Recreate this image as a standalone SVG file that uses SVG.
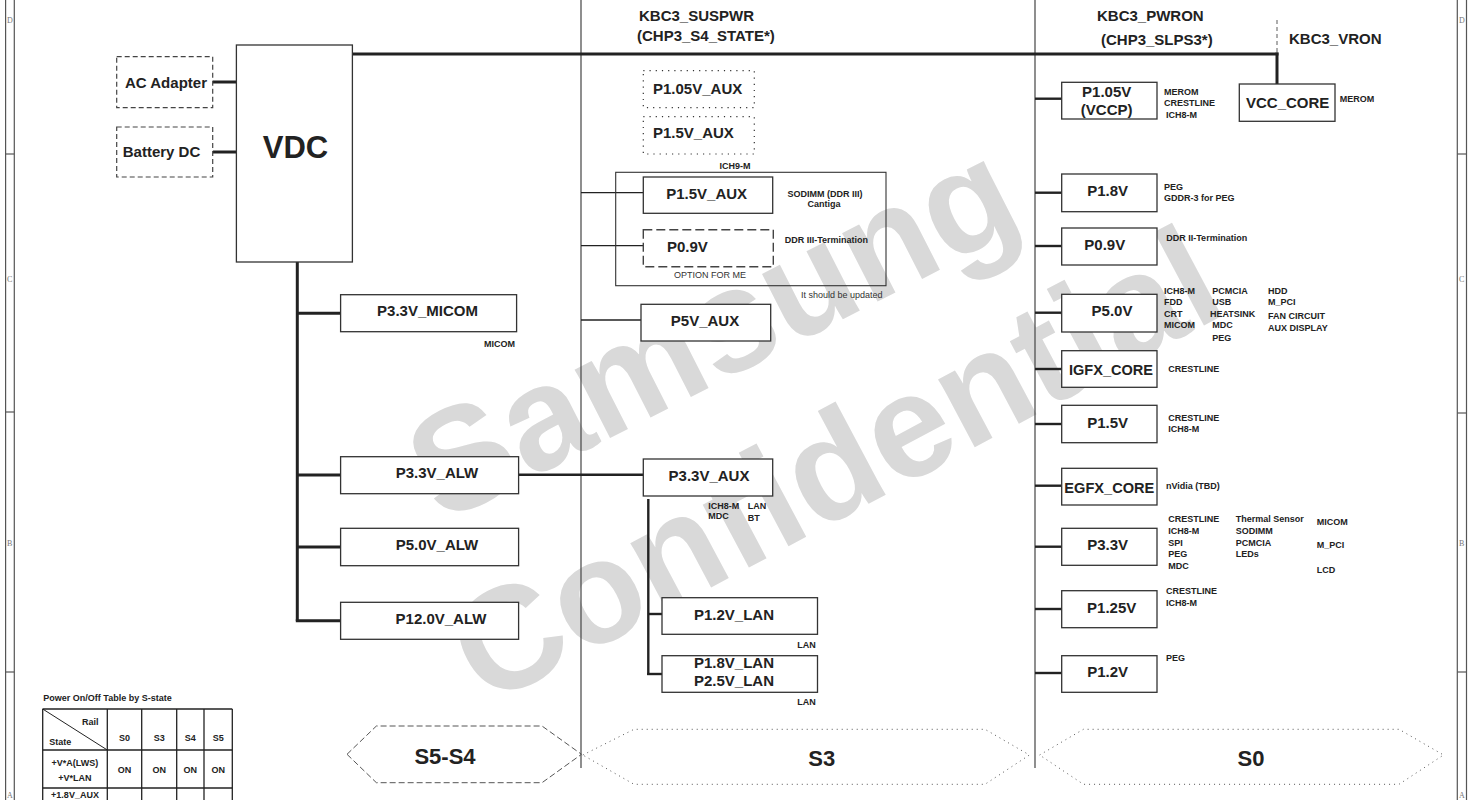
<svg xmlns="http://www.w3.org/2000/svg" width="1470" height="800" viewBox="0 0 1470 800">
<defs>
<style>
.bg{fill:#ffffff}
.wm{font-family:"Liberation Sans",Arial,sans-serif;font-weight:bold;font-size:146px;fill:#d9d9d9}
.frame{stroke:#555;stroke-width:1.2;fill:none}
.zl{font-family:"Liberation Serif",serif;font-size:8px;fill:#777}
.box{fill:#fff;stroke:#333;stroke-width:1.3}
.boxn{fill:none;stroke:#333;stroke-width:1.1}
.dash{fill:#fff;stroke:#444;stroke-width:1.2;stroke-dasharray:5 3}
.dash2{fill:#fff;stroke:#444;stroke-width:1.4;stroke-dasharray:9 4}
.dot{fill:#fff;stroke:#333;stroke-width:1.2;stroke-dasharray:1.2 5}
.hexdash{fill:none;stroke:#555;stroke-width:1;stroke-dasharray:6 3}
.hexdot{fill:none;stroke:#555;stroke-width:1;stroke-dasharray:1 4}
.thick{stroke:#222;stroke-width:3;fill:none}
.med{stroke:#222;stroke-width:2.4;fill:none}
.thin{stroke:#222;stroke-width:1.3;fill:none}
.sep{stroke:#444;stroke-width:1.2;fill:none}
.vdash{stroke:#777;stroke-width:1.2;stroke-dasharray:4 3;fill:none}
.t{font-family:"Liberation Sans",Arial,sans-serif;font-weight:bold;font-size:15px;fill:#222}
.tm{text-anchor:middle}
.big{font-family:"Liberation Sans",Arial,sans-serif;font-weight:bold;font-size:31px;fill:#222;text-anchor:middle}
.st{font-family:"Liberation Sans",Arial,sans-serif;font-weight:bold;font-size:22px;fill:#222;text-anchor:middle}
.s{font-family:"Liberation Sans",Arial,sans-serif;font-weight:bold;font-size:9px;fill:#222}
.n{font-family:"Liberation Sans",Arial,sans-serif;font-size:9px;fill:#333}
.tb{font-family:"Liberation Sans",Arial,sans-serif;font-weight:bold;font-size:9px;fill:#222;text-anchor:middle}
</style>
</defs>
<rect class="bg" x="0" y="0" width="1470" height="800"/>

<g id="watermark">
<text class="wm" text-anchor="middle" transform="translate(712,330) rotate(-27)" y="50">Samsung</text>
<text class="wm" text-anchor="middle" transform="translate(835,465) rotate(-28)" y="50">Confidential</text>
</g>

<g id="frame">
<line class="frame" x1="5.6" y1="0" x2="5.6" y2="800"/>
<line class="frame" x1="14.3" y1="0" x2="14.3" y2="800"/>
<line class="frame" x1="5.6" y1="154" x2="14.3" y2="154"/>
<line class="frame" x1="5.6" y1="412" x2="14.3" y2="412"/>
<line class="frame" x1="5.6" y1="672" x2="14.3" y2="672"/>
<line class="frame" x1="1457.3" y1="0" x2="1457.3" y2="800"/>
<line class="frame" x1="1466.5" y1="0" x2="1466.5" y2="800"/>
<line class="frame" x1="1457.3" y1="154" x2="1466.5" y2="154"/>
<line class="frame" x1="1457.3" y1="413" x2="1466.5" y2="413"/>
<line class="frame" x1="1457.3" y1="672" x2="1466.5" y2="672"/>
<text class="zl" x="7" y="23">D</text>
<text class="zl" x="7" y="282">C</text>
<text class="zl" x="7" y="546">B</text>
<text class="zl" x="7" y="798">A</text>
<text class="zl" x="1459" y="23">D</text>
<text class="zl" x="1459" y="282">C</text>
<text class="zl" x="1459" y="546">B</text>
<text class="zl" x="1459" y="798">A</text>
</g>

<g id="state-columns">
<line class="sep" x1="581" y1="0" x2="581" y2="768"/>
<line class="sep" x1="1035" y1="0" x2="1035" y2="768"/>
<text class="t" x="639" y="21">KBC3_SUSPWR</text>
<text class="t" x="637" y="41" font-size="14.2">(CHP3_S4_STATE*)</text>
<text class="t" x="1097" y="21">KBC3_PWRON</text>
<text class="t" x="1101" y="44.6">(CHP3_SLPS3*)</text>
<text class="t" x="1289" y="44.4">KBC3_VRON</text>
</g>

<g id="connectors">
<line class="thick" x1="352" y1="54" x2="1278.5" y2="54"/>
<line class="vdash" x1="1277" y1="20" x2="1277" y2="53"/>
<line class="thick" x1="1277" y1="52.5" x2="1277" y2="84"/>
<line class="thick" x1="212.6" y1="82" x2="236.4" y2="82"/>
<line class="thick" x1="212.6" y1="152" x2="236.4" y2="152"/>
<line class="thick" x1="297.3" y1="262" x2="297.3" y2="621"/>
<line class="thick" x1="297.3" y1="313.3" x2="340.6" y2="313.3"/>
<line class="thick" x1="297.3" y1="475" x2="340.6" y2="475"/>
<line class="thick" x1="297.3" y1="547" x2="340.6" y2="547"/>
<line class="thick" x1="295.8" y1="620.7" x2="340.6" y2="620.7"/>
<line class="med" x1="518.6" y1="474.7" x2="643.3" y2="474.7"/>
<line class="thin" x1="581" y1="192.7" x2="643.3" y2="192.7"/>
<line class="thin" x1="581" y1="245.7" x2="643.3" y2="245.7"/>
<line class="thin" x1="581" y1="320" x2="641" y2="320"/>
<line class="med" x1="648.3" y1="499" x2="648.3" y2="675"/>
<line class="med" x1="648.3" y1="614" x2="662" y2="614"/>
<line class="med" x1="647.1" y1="674" x2="662" y2="674"/>
<line class="med" x1="1035" y1="98.7" x2="1061.7" y2="98.7"/>
<line class="med" x1="1035" y1="192.7" x2="1061.7" y2="192.7"/>
<line class="med" x1="1035" y1="246" x2="1061.7" y2="246"/>
<line class="med" x1="1035" y1="312.7" x2="1061.7" y2="312.7"/>
<line class="med" x1="1035" y1="369" x2="1061.7" y2="369"/>
<line class="med" x1="1035" y1="424" x2="1061.7" y2="424"/>
<line class="med" x1="1035" y1="485.7" x2="1061.7" y2="485.7"/>
<line class="med" x1="1035" y1="546.7" x2="1061.7" y2="546.7"/>
<line class="med" x1="1035" y1="609" x2="1061.7" y2="609"/>
<line class="med" x1="1035" y1="673" x2="1061.7" y2="673"/>
</g>

<g id="ac-adapter">
<rect class="dash" x="116.7" y="56.7" width="96" height="51"/>
<text class="t tm" x="166" y="88.4">AC Adapter</text>
</g>
<g id="battery-dc">
<rect class="dash" x="116.7" y="127" width="96" height="50"/>
<text class="t tm" x="161.5" y="157">Battery DC</text>
</g>
<g id="vdc">
<rect class="box" x="236.4" y="45" width="116" height="217"/>
<text class="big" x="295.5" y="158">VDC</text>
</g>
<g id="p33v-micom">
<rect class="box" x="340.6" y="294.7" width="176" height="37"/>
<text class="t tm" x="427.5" y="316.4">P3.3V_MICOM</text>
<text class="s" x="484" y="347.2">MICOM</text>
</g>
<g id="p33v-alw">
<rect class="box" x="340.6" y="456.7" width="178" height="37"/>
<text class="t tm" x="437" y="478.4">P3.3V_ALW</text>
</g>
<g id="p50v-alw">
<rect class="box" x="340.6" y="528.3" width="178" height="37.4"/>
<text class="t tm" x="437" y="550.4">P5.0V_ALW</text>
</g>
<g id="p120v-alw">
<rect class="box" x="340.6" y="602.3" width="178" height="37"/>
<text class="t tm" x="441" y="624.4">P12.0V_ALW</text>
</g>

<g id="p105v-aux">
<rect class="dot" x="643.3" y="70.7" width="111" height="37"/>
<text class="t" x="653" y="94.4">P1.05V_AUX</text>
</g>
<g id="p15v-aux-opt">
<rect class="dot" x="643.3" y="116.7" width="111" height="37.3"/>
<text class="t" x="653" y="138">P1.5V_AUX</text>
</g>
<g id="ich9m-group">
<text class="s tm" x="735" y="169">ICH9-M</text>
<rect class="boxn" x="615.7" y="172.3" width="270.3" height="113.4"/>
</g>
<g id="p15v-aux">
<rect class="box" x="643.3" y="177" width="129.4" height="36.3"/>
<text class="t tm" x="706.7" y="198.7">P1.5V_AUX</text>
<text class="s tm" x="825" y="197">SODIMM (DDR III)</text>
<text class="s tm" x="824" y="207">Cantiga</text>
</g>
<g id="p09v-aux">
<rect class="dash2" x="643.3" y="229.7" width="130" height="37"/>
<text class="t" x="667" y="252">P0.9V</text>
<text class="s" x="784.7" y="243">DDR III-Termination</text>
<text class="n tm" x="710" y="278">OPTION FOR ME</text>
</g>
<text class="n" x="801" y="298">It should be updated</text>
<g id="p5v-aux">
<rect class="box" x="641" y="304.3" width="129.7" height="36.7"/>
<text class="t tm" x="705" y="326">P5V_AUX</text>
</g>
<g id="p33v-aux">
<rect class="box" x="643.3" y="459" width="129.4" height="37"/>
<text class="t tm" x="709" y="481">P3.3V_AUX</text>
<text class="s" x="708.3" y="509">ICH8-M</text>
<text class="s" x="708.3" y="518.5">MDC</text>
<text class="s" x="747.7" y="509">LAN</text>
<text class="s" x="747.7" y="521">BT</text>
</g>
<g id="p12v-lan">
<rect class="box" x="662" y="597.7" width="155.5" height="36.6"/>
<text class="t tm" x="734" y="620.4">P1.2V_LAN</text>
<text class="s tm" x="806.4" y="648">LAN</text>
</g>
<g id="p18v-lan">
<rect class="box" x="662" y="655.7" width="155.5" height="36.6"/>
<text class="t tm" x="734" y="668">P1.8V_LAN</text>
<text class="t tm" x="734" y="686.3">P2.5V_LAN</text>
<text class="s tm" x="806.4" y="705">LAN</text>
</g>

<g id="p105v-vccp">
<rect class="box" x="1061.7" y="82.3" width="95.3" height="36.7"/>
<text class="t tm" x="1106.7" y="97">P1.05V</text>
<text class="t tm" x="1106.7" y="115.4">(VCCP)</text>
<text class="s" x="1164" y="95">MEROM</text>
<text class="s" x="1164" y="106">CRESTLINE</text>
<text class="s" x="1166" y="118.2">ICH8-M</text>
</g>
<g id="vcc-core">
<rect class="box" x="1239.3" y="84" width="95.7" height="37.3"/>
<text class="t tm" x="1287.7" y="107.5" font-size="15.5">VCC_CORE</text>
<text class="s" x="1339.7" y="102">MEROM</text>
</g>
<g id="p18v">
<rect class="box" x="1061.7" y="174" width="95.3" height="37.7"/>
<text class="t tm" x="1107.7" y="196.4">P1.8V</text>
<text class="s" x="1164" y="190">PEG</text>
<text class="s" x="1164" y="201">GDDR-3 for PEG</text>
</g>
<g id="p09v">
<rect class="box" x="1061.7" y="228" width="95.3" height="37"/>
<text class="t tm" x="1104.8" y="250.4">P0.9V</text>
<text class="s" x="1166.3" y="241">DDR II-Termination</text>
</g>
<g id="p50v">
<rect class="box" x="1061.7" y="294.3" width="95.3" height="37.7"/>
<text class="t tm" x="1112" y="316.4">P5.0V</text>
<text class="s" x="1164" y="294">ICH8-M</text>
<text class="s" x="1164" y="305">FDD</text>
<text class="s" x="1164" y="317.3">CRT</text>
<text class="s" x="1164" y="328">MICOM</text>
<text class="s" x="1212.3" y="294">PCMCIA</text>
<text class="s" x="1212.3" y="305">USB</text>
<text class="s" x="1210" y="316.6">HEATSINK</text>
<text class="s" x="1212.3" y="328">MDC</text>
<text class="s" x="1212.3" y="341">PEG</text>
<text class="s" x="1268" y="294">HDD</text>
<text class="s" x="1268" y="305">M_PCI</text>
<text class="s" x="1268" y="318.6">FAN CIRCUIT</text>
<text class="s" x="1268" y="331">AUX DISPLAY</text>
</g>
<g id="igfx-core">
<rect class="box" x="1061.7" y="350.7" width="95.3" height="36.6"/>
<text class="t tm" x="1111" y="375" font-size="16" textLength="84" lengthAdjust="spacingAndGlyphs">IGFX_CORE</text>
<text class="s" x="1168.3" y="372">CRESTLINE</text>
</g>
<g id="p15v">
<rect class="box" x="1061.7" y="405.3" width="95.3" height="37.4"/>
<text class="t tm" x="1107.7" y="427.7">P1.5V</text>
<text class="s" x="1168.3" y="421">CRESTLINE</text>
<text class="s" x="1168.3" y="432.3">ICH8-M</text>
</g>
<g id="egfx-core">
<rect class="box" x="1061.7" y="468.3" width="95.3" height="36.7"/>
<text class="t tm" x="1109.3" y="492.5" font-size="16" textLength="90" lengthAdjust="spacingAndGlyphs">EGFX_CORE</text>
<text class="s" x="1166" y="489.3">nVidia (TBD)</text>
</g>
<g id="p33v">
<rect class="box" x="1061.7" y="528.3" width="95.3" height="37"/>
<text class="t tm" x="1107.7" y="550.4">P3.3V</text>
<text class="s" x="1168.3" y="522">CRESTLINE</text>
<text class="s" x="1168.3" y="534">ICH8-M</text>
<text class="s" x="1168.3" y="546">SPI</text>
<text class="s" x="1168.3" y="557">PEG</text>
<text class="s" x="1168.3" y="569">MDC</text>
<text class="s" x="1235.7" y="522">Thermal Sensor</text>
<text class="s" x="1235.7" y="534">SODIMM</text>
<text class="s" x="1235.7" y="546">PCMCIA</text>
<text class="s" x="1235.7" y="557">LEDs</text>
<text class="s" x="1316.7" y="525">MICOM</text>
<text class="s" x="1316.7" y="548.3">M_PCI</text>
<text class="s" x="1316.7" y="573">LCD</text>
</g>
<g id="p125v">
<rect class="box" x="1061.7" y="590.7" width="95.3" height="37"/>
<text class="t tm" x="1111.7" y="612.7">P1.25V</text>
<text class="s" x="1166" y="594">CRESTLINE</text>
<text class="s" x="1166" y="606">ICH8-M</text>
</g>
<g id="p12v">
<rect class="box" x="1061.7" y="655.7" width="95.3" height="36.6"/>
<text class="t tm" x="1107.7" y="677.4">P1.2V</text>
<text class="s" x="1166" y="661">PEG</text>
</g>

<g id="state-s5s4">
<polygon class="hexdash" points="347,754.3 376.4,726 542,726 581.5,754.3 542,782.7 376.4,782.7"/>
<text class="st" x="445" y="764">S5-S4</text>
</g>
<g id="state-s3">
<polygon class="hexdot" points="582.8,755 634,729.3 985,729.3 1029.4,755 985,784.3 634,784.3"/>
<text class="st" x="821.7" y="766">S3</text>
</g>
<g id="state-s0">
<polygon class="hexdot" points="1039.6,755 1083.4,729.3 1399,729.3 1443.5,755 1399,784.3 1083.4,784.3"/>
<text class="st" x="1251" y="766">S0</text>
</g>

<g id="power-table">
<text class="s" x="43.3" y="700.5">Power On/Off Table by S-state</text>
<line class="thin" x1="42.7" y1="709" x2="232.3" y2="709"/>
<line class="thin" x1="42.7" y1="750" x2="232.3" y2="750"/>
<line class="thin" x1="42.7" y1="788" x2="232.3" y2="788"/>
<line class="thin" x1="42.7" y1="709" x2="42.7" y2="800"/>
<line class="thin" x1="107.3" y1="709" x2="107.3" y2="800"/>
<line class="thin" x1="141.7" y1="709" x2="141.7" y2="800"/>
<line class="thin" x1="176.7" y1="709" x2="176.7" y2="800"/>
<line class="thin" x1="204" y1="709" x2="204" y2="800"/>
<line class="thin" x1="232.3" y1="709" x2="232.3" y2="800"/>
<line stroke="#222" stroke-width="1" x1="42.7" y1="709" x2="107.3" y2="750"/>
<text class="s" x="82" y="725">Rail</text>
<text class="s" x="49.3" y="745">State</text>
<text class="tb" x="124.5" y="740.5">S0</text>
<text class="tb" x="159.2" y="740.5">S3</text>
<text class="tb" x="190.3" y="740.5">S4</text>
<text class="tb" x="218.2" y="740.5">S5</text>
<text class="tb" x="75" y="765.5">+V*A(LWS)</text>
<text class="tb" x="75" y="780.5">+V*LAN</text>
<text class="tb" x="124.5" y="772.5">ON</text>
<text class="tb" x="159.2" y="772.5">ON</text>
<text class="tb" x="190.3" y="772.5">ON</text>
<text class="tb" x="218.2" y="772.5">ON</text>
<text class="tb" x="75" y="797.5">+1.8V_AUX</text>
</g>
</svg>
